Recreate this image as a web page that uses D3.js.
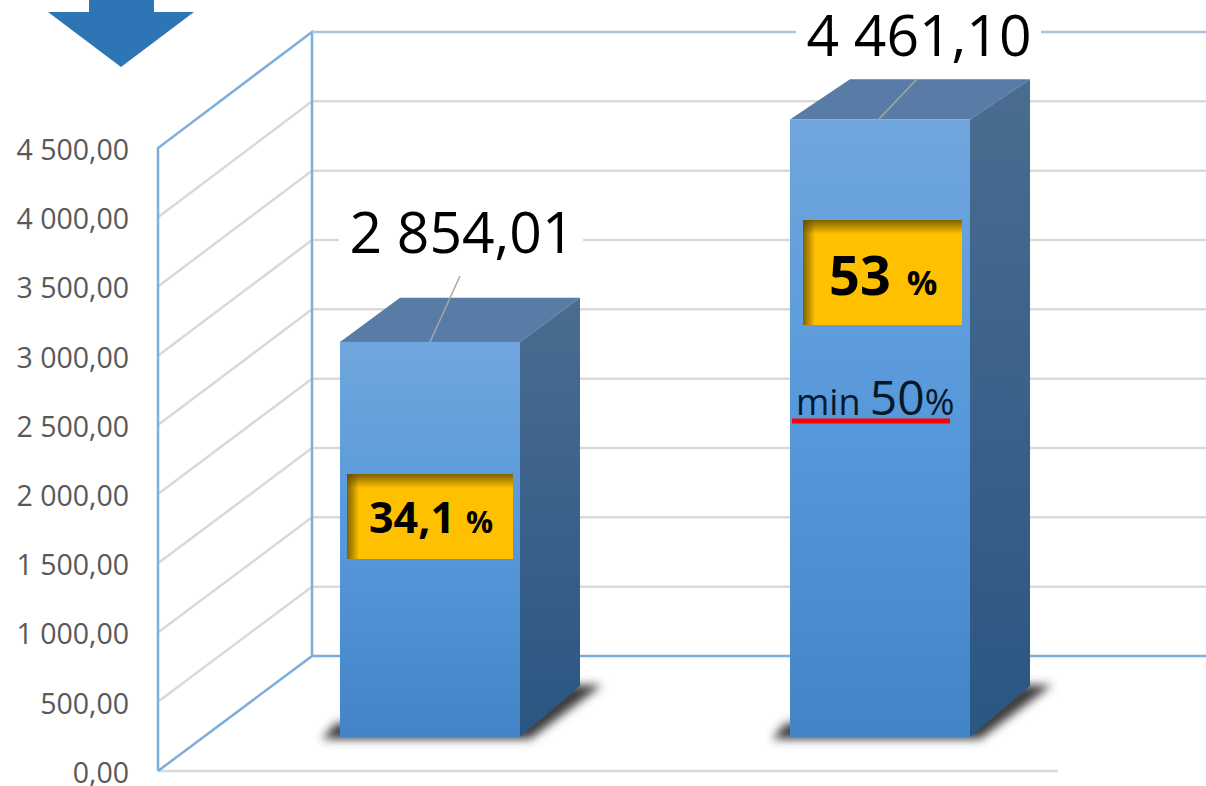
<!DOCTYPE html>
<html>
<head>
<meta charset="utf-8">
<script src="https://cdn.jsdelivr.net/npm/d3@7"></script>
<style>
  html, body { margin: 0; padding: 0; background: #fff; overflow: hidden; }
  svg { display: block; }
  text { font-family: "Open Sans", sans-serif; }
</style>
</head>
<body>
<div id="chart"></div>
<script>
const categories = ["first", "second"];
const values = [2854.01, 4461.10];
const valueLabels = ["2 854,01", "4 461,10"];
const shareMain = ["34,1", "53"];
const yTicks = [0, 500, 1000, 1500, 2000, 2500, 3000, 3500, 4000, 4500];

const width = 1206, height = 786;

const svg = d3.select("#chart").append("svg")
  .attr("width", width)
  .attr("height", height);

const defs = svg.append("defs");

function vGrad(id, stops) {
  const g = defs.append("linearGradient").attr("id", id)
    .attr("x1", 0).attr("y1", 0).attr("x2", 0).attr("y2", 1);
  stops.forEach((c, i) => g.append("stop").attr("offset", i / (stops.length - 1)).attr("stop-color", c));
}
vGrad("front", ["#70a6de", "#5698da", "#4384c6"]);
vGrad("side", ["#4a6c90", "#2a5682"]);

// inner shadow of the yellow boxes
const edgeTop = defs.append("linearGradient").attr("id", "edgeTop")
  .attr("x1", 0).attr("y1", 0).attr("x2", 0).attr("y2", 1);
edgeTop.append("stop").attr("offset", 0).attr("stop-color", "#5e4a00").attr("stop-opacity", 0.8);
edgeTop.append("stop").attr("offset", 1).attr("stop-color", "#5e4a00").attr("stop-opacity", 0);
const edgeLeft = defs.append("linearGradient").attr("id", "edgeLeft")
  .attr("x1", 0).attr("y1", 0).attr("x2", 1).attr("y2", 0);
edgeLeft.append("stop").attr("offset", 0).attr("stop-color", "#5e4a00").attr("stop-opacity", 0.8);
edgeLeft.append("stop").attr("offset", 1).attr("stop-color", "#5e4a00").attr("stop-opacity", 0);

defs.append("filter").attr("id", "blur")
  .attr("x", "-20%").attr("y", "-40%").attr("width", "140%").attr("height", "180%")
  .append("feGaussianBlur").attr("stdDeviation", 5);

// the three planes of the 3d frame
const yWallFront = d3.scaleLinear().domain([0, 4500]).range([771, 148]);
const yWallBack = d3.scaleLinear().domain([0, 4500]).range([656, 32]);
const xFront = 158, xBack = 312, xFloorEnd = 1058;

// bars sit on the floor, back edge is a bit compressed by the perspective
const yBar = d3.scaleLinear().domain([0, 4500]).range([737, 114]);
const yBarBack = d3.scaleLinear().domain([0, 4500]).range([686, 74]);
const x = d3.scaleBand().domain(categories).range([205, 1105])
  .paddingInner(0.6).paddingOuter(0.3);
const depth = 60;

const fmt = d3.formatLocale({ decimal: ",", thousands: " ", grouping: [3], currency: ["", ""] }).format(",.2f");

// arrow
svg.append("path")
  .attr("d", "M89,0H154V12H194L121,67L48,12H89Z")
  .attr("fill", "#2e75b6");

// gridlines
const grid = svg.append("g");
const inner = yTicks.filter(d => d > 0 && d < 4500);
grid.selectAll(".back").data(inner).enter().append("line")
  .attr("x1", xBack).attr("x2", width)
  .attr("y1", d => yWallBack(d)).attr("y2", d => yWallBack(d))
  .attr("stroke", "#d9d9d9").attr("stroke-width", 2.5);
grid.selectAll(".wall").data(inner).enter().append("line")
  .attr("x1", xFront).attr("x2", xBack)
  .attr("y1", d => yWallFront(d)).attr("y2", d => yWallBack(d))
  .attr("stroke", "#d9d9d9").attr("stroke-width", 2.5);
grid.append("line")
  .attr("x1", xFront).attr("x2", xFloorEnd)
  .attr("y1", yWallFront(0)).attr("y2", yWallFront(0))
  .attr("stroke", "#d9d9d9").attr("stroke-width", 2.5);

// blue frame
const frame = svg.append("g").attr("stroke", "#7eaedb").attr("fill", "none").attr("stroke-width", 2.5);
frame.append("path").attr("d", `M${xFront},${yWallFront(0)}V${yWallFront(4500)}L${xBack},${yWallBack(4500)}V${yWallBack(0)}L${xFront},${yWallFront(0)}`);
frame.append("line").attr("x1", xBack).attr("x2", width)
  .attr("y1", yWallBack(0)).attr("y2", yWallBack(0));
frame.append("line").attr("x1", xBack).attr("x2", width)
  .attr("y1", yWallBack(4500)).attr("y2", yWallBack(4500))
  .attr("stroke", "#a9c4de");

// y axis
const axis = svg.append("g")
  .attr("transform", `translate(${xFront},0)`)
  .call(d3.axisLeft(yWallFront).tickValues(yTicks).tickSize(0).tickPadding(29).tickFormat(fmt));
axis.select(".domain").remove();
axis.selectAll("text")
  .attr("fill", "#595959")
  .style("font-size", "28.5px")
  .style("font-family", "'Open Sans', sans-serif")
  .attr("dy", "0.4em");

// bars
const bars = svg.selectAll(".bar").data(values).enter().append("g").attr("class", "bar");
const left = (d, i) => x(categories[i]);
const right = (d, i) => x(categories[i]) + x.bandwidth();

bars.append("path")
  .attr("d", (d, i) => `M${left(d, i) - 18},${yBar(0) + 2}H${right(d, i) + 10}L${right(d, i) + depth + 22},${yBarBack(0) - 1}H${right(d, i) + depth - 10}L${right(d, i)},${yBar(0) - 14}H${left(d, i) - 4}Z`)
  .attr("fill", "#3a3a3a")
  .attr("filter", "url(#blur)");
bars.append("path")
  .attr("d", (d, i) => `M${left(d, i)},${yBar(d)}L${left(d, i) + depth},${yBarBack(d)}H${right(d, i) + depth}L${right(d, i)},${yBar(d)}Z`)
  .attr("fill", "#587ca6");
bars.append("path")
  .attr("d", (d, i) => `M${right(d, i)},${yBar(d)}L${right(d, i) + depth},${yBarBack(d)}V${yBarBack(0)}L${right(d, i)},${yBar(0)}Z`)
  .attr("fill", "url(#side)");
bars.append("rect")
  .attr("x", (d, i) => left(d, i))
  .attr("y", d => yBar(d))
  .attr("width", x.bandwidth())
  .attr("height", d => yBar(0) - yBar(d))
  .attr("fill", "url(#front)");

// leader lines
const leaders = [[430, 342, 460, 276], [879, 119, 917, 79]];
svg.selectAll(".leader").data(leaders).enter().append("line")
  .attr("x1", d => d[0]).attr("y1", d => d[1])
  .attr("x2", d => d[2]).attr("y2", d => d[3])
  .attr("stroke", "#a6a6a6").attr("stroke-width", 1.5);

// value labels, white box cuts the gridline
const labelPos = [[462, 253, 339, 583], [919, 56, 796, 1041]];
labelPos.forEach((p, i) => {
  svg.append("rect").attr("x", p[2]).attr("y", p[1] - 44)
    .attr("width", p[3] - p[2]).attr("height", 60).attr("fill", "#fff");
  svg.append("text").attr("x", p[0]).attr("y", p[1])
    .attr("text-anchor", "middle")
    .attr("fill", "#000")
    .style("font-size", "57px")
    .text(valueLabels[i]);
});

// yellow boxes
const boxes = [
  { x: 347, y: 474, w: 166, h: 85, tx: 369, ty: 533, big: 43, small: 30, gap: 11 },
  { x: 803, y: 220, w: 159, h: 105, tx: 829, ty: 295, big: 54, small: 34, gap: 16 }
];
boxes.forEach((b, i) => {
  svg.append("rect").attr("x", b.x).attr("y", b.y).attr("width", b.w).attr("height", b.h).attr("fill", "#ffc000");
  svg.append("rect").attr("x", b.x).attr("y", b.y).attr("width", b.w).attr("height", 14).attr("fill", "url(#edgeTop)");
  svg.append("rect").attr("x", b.x).attr("y", b.y).attr("width", 12).attr("height", b.h).attr("fill", "url(#edgeLeft)");
  const t = svg.append("text").attr("x", b.tx).attr("y", b.ty)
    .attr("font-weight", 700).attr("fill", "#000");
  t.append("tspan").style("font-size", b.big + "px").text(shareMain[i]);
  t.append("tspan").style("font-size", b.small + "px").attr("dx", b.gap).text("%");
});

// min 50% note
const note = svg.append("text").attr("x", 796).attr("y", 415).attr("fill", "#06182c");
note.append("tspan").style("font-size", "36px").text("min ");
note.append("tspan").style("font-size", "48px").text("50");
note.append("tspan").style("font-size", "36px").text("%");
svg.append("rect").attr("x", 792).attr("y", 418.5).attr("width", 158).attr("height", 5).attr("fill", "#ff0000");
</script>
</body>
</html>
